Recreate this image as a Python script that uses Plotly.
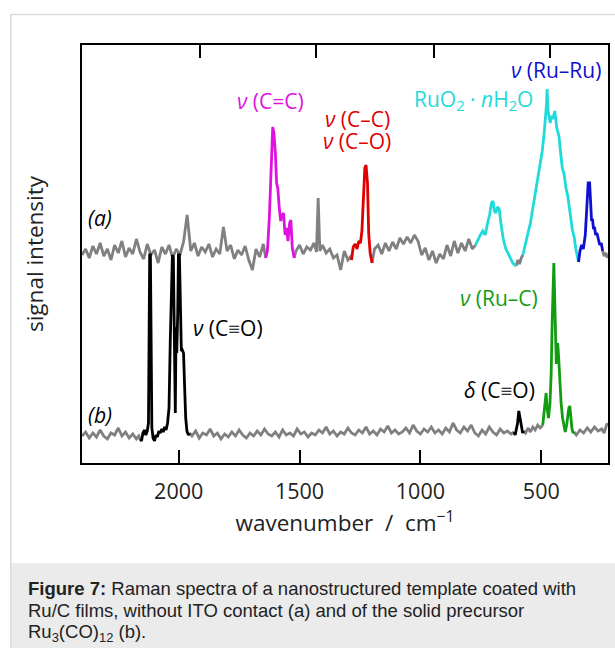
import numpy as np
import plotly.graph_objects as go

# ---------------- data ----------------
# spectrum (a): Ru/C film on template (wavenumber / cm-1, intensity in arbitrary offset units)
a_wn = [2400, 2385, 2370, 2355, 2340, 2325, 2310, 2295, 2280, 2265, 2250, 2235, 2220, 2205, 2190,
        2175, 2160, 2145, 2130, 2115, 2100, 2085, 2070, 2055, 2040, 2025, 2010, 1995, 1980, 1965,
        1950, 1935, 1920, 1905, 1890, 1875, 1860, 1845, 1830, 1815, 1800, 1785, 1770, 1755, 1740,
        1725, 1710, 1695, 1680, 1665, 1650,
        1640, 1633, 1625, 1617, 1611, 1606, 1600, 1595, 1590, 1584, 1578, 1572, 1566, 1560, 1554,
        1548, 1541, 1536, 1530, 1522,
        1515, 1500, 1485, 1470, 1455, 1440, 1430, 1423, 1416, 1405, 1390, 1375, 1360, 1345, 1330,
        1315, 1300, 1290,
        1285, 1278, 1270, 1262, 1255, 1248, 1242, 1236, 1230, 1225, 1219, 1214, 1208, 1200,
        1190, 1175, 1160, 1145, 1130, 1115, 1100, 1085, 1070, 1055, 1040, 1025, 1010, 995, 980,
        965, 950, 935, 920, 905, 890, 875, 860, 845, 830, 815, 800, 785,
        772, 762, 752, 742, 732, 722, 714, 706, 700, 694, 688, 681, 674, 667, 658, 648, 638, 628,
        618, 610, 604,
        597, 590, 583,
        576, 565, 555, 545, 535, 525, 517, 507, 496, 488, 482, 478, 476, 472, 467, 463, 459, 452,
        444, 436, 430, 426, 420, 413, 405, 398, 391, 385, 378, 372, 364, 357, 350, 346,
        340, 333, 326, 318, 312, 306, 300, 296, 292, 288, 284, 280, 275, 270, 264, 258, 252, 246,
        240, 233, 226]
a_int = [208, 214, 205, 217, 209, 220, 207, 214, 203, 218, 210, 222, 206, 215, 209,
         224, 211, 204, 219, 208, 213, 200, 216, 209, 218, 205, 214, 208, 221, 248,
         212, 220, 207, 216, 211, 219, 206, 214, 209, 236, 212, 218, 204, 213, 208,
         217, 203, 193, 214, 206, 219,
         205, 212, 245, 300, 336, 330, 310, 280, 275, 255, 242, 248, 250, 228, 235,
         222, 240, 243, 215, 205,
         212, 218, 209, 216, 213, 220, 211, 265, 212, 218, 210, 214, 205, 208, 193,
         212, 203, 206,
         203, 216, 219, 214, 222, 220, 232, 260, 295, 298, 280, 230, 210, 200,
         214, 218, 209, 220, 212, 221, 214, 225, 219, 226, 220, 228, 222, 208, 215,
         203, 212, 200, 209, 204, 218, 207, 222, 210, 220, 212, 224, 214,
         218, 224, 228, 232, 228, 240, 248, 260, 262, 252, 250, 256, 254, 240, 225, 215, 210, 205,
         200, 198, 197,
         203, 199, 205,
         208, 218, 230, 240, 255, 268, 280, 294, 312, 330, 346, 360, 374, 352, 346, 340, 347, 344,
         352, 335, 330, 325, 310, 295, 288, 275, 268, 255, 245, 234, 226, 214, 206, 201,
         212, 218, 214, 228, 252, 280, 280, 262, 242, 244, 234, 236, 228, 230, 222, 218, 220, 212,
         207, 210, 205]
# colour bands of spectrum (a): (colour, high wavenumber, low wavenumber)
a_bands = [("#808080", 2400, 1640), ("#808080", 1522, 1285), ("#808080", 1200, 772),
           ("#808080", 604, 576), ("#808080", 246, 224),
           ("#e012e0", 1640, 1522), ("#e00000", 1285, 1200), ("#1fdada", 772, 604),
           ("#1fdada", 576, 346), ("#1010d0", 346, 246)]

# spectrum (b): solid precursor Ru3(CO)12
b_wn = [2400, 2385, 2370, 2355, 2340, 2325, 2310, 2295, 2280, 2265, 2250, 2235, 2220, 2205, 2190,
        2175, 2165,
        2160, 2154, 2148, 2142, 2136, 2130, 2125, 2122, 2120, 2117, 2114, 2111, 2106, 2100, 2094,
        2088, 2082, 2076, 2070, 2064, 2058, 2052, 2046, 2040, 2035, 2030, 2026, 2022, 2018, 2014,
        2011, 2008, 2004, 2001, 1997, 1993, 1989, 1985, 1980, 1976, 1971, 1966, 1960, 1955,
        1945, 1930, 1915, 1900, 1885, 1870, 1855, 1840, 1825, 1810, 1795, 1780, 1765, 1750, 1735,
        1720, 1705, 1690, 1675, 1660, 1645, 1630, 1615, 1600, 1585, 1570, 1555, 1540, 1525, 1510,
        1495, 1480, 1465, 1450, 1435, 1420, 1405, 1390, 1375, 1360, 1345, 1330, 1315, 1300, 1285,
        1270, 1255, 1240, 1225, 1210, 1195, 1180, 1165, 1150, 1135, 1120, 1105, 1090, 1075, 1060,
        1045, 1030, 1015, 1000, 985, 970, 955, 940, 925, 910, 895, 880, 865, 850, 835, 820, 805,
        790, 775, 760, 745, 730, 715, 700, 685, 670, 655, 640, 625, 612,
        608, 603, 598, 593, 589, 585, 581, 577, 573,
        565, 555, 545, 535, 525, 515, 505, 497,
        494, 489, 484, 480, 476, 470, 464, 459, 455, 451, 448, 445, 441, 438, 435, 432, 428, 423,
        418, 412, 406, 401, 395, 390, 386, 382, 378, 373, 368, 365,
        355, 340, 325, 310, 295, 280, 265, 250, 240, 230, 226]
b_int = [27, 31, 25, 30, 26, 33, 27, 24, 30, 28, 35, 27, 31, 25, 29,
         24, 27,
         24, 22, 30, 33, 28, 32, 40, 150, 208, 208, 120, 35, 25, 22, 28,
         26, 32, 30, 34, 31, 36, 33, 40, 55, 120, 190, 208, 205, 120, 50,
         136, 110, 150, 208, 208, 140, 112, 113, 110, 80, 45, 32, 28, 30,
         27, 32, 25, 30, 28, 34, 27, 30, 24, 29, 26, 31, 27, 33, 28,
         25, 30, 27, 32, 28, 34, 29, 27, 31, 26, 33, 28, 30, 27, 34,
         29, 31, 26, 30, 28, 33, 30, 36, 29, 32, 27, 31, 29, 35, 30,
         28, 33, 30, 36, 29, 32, 28, 34, 31, 37, 30, 33, 29, 31, 35,
         30, 38, 32, 29, 34, 31, 36, 30, 33, 29, 35, 31, 40, 33, 30, 36, 32,
         38, 30, 27, 33, 29, 36, 31, 28, 34, 30, 32, 29, 31,
         28, 34, 40, 52, 46, 38, 36, 30, 32,
         30, 35, 31, 36, 33, 38, 35, 37,
         38, 48, 60, 70, 55, 45, 60, 90, 140, 185, 200, 170, 120, 99, 112, 120, 105, 80,
         60, 45, 36, 31, 38, 48, 55, 57, 45, 34, 30, 31,
         28, 33, 30, 35, 31, 36, 32, 34, 30, 38, 40]
b_bands = [("#808080", 2400, 2160), ("#808080", 1955, 612), ("#808080", 573, 494),
           ("#808080", 365, 224),
           ("#000000", 2160, 1955), ("#000000", 612, 573), ("#119c11", 494, 365)]

x_range = [2400, 224]
bottom_ticks = [2000, 1500, 1000, 500]
bottom_labels = ["2000", "1500", "1000", "500"]
top_ticks = [1913, 1431, 945, 463]

# peak assignments: (text, wavenumber, intensity, colour)
labels = [
    ("<i>ν</i> (C=C)", 1621, 362, "#e012e0"),
    ("<i>ν</i> (C–C)", 1262, 344, "#e00000"),
    ("<i>ν</i> (C–O)", 1262, 322, "#e00000"),
    ("RuO<sub>2</sub> · <i>n</i>H<sub>2</sub>O", 780, 363, "#1fdada"),
    ("<i>ν</i> (Ru–Ru)", 438, 393, "#1010d0"),
    ("<i>ν</i> (C≡O)", 1794, 135, "#000000"),
    ("<i>ν</i> (Ru–C)", 673, 165, "#119c11"),
    ("<i>δ</i> (C≡O)", 673, 73, "#000000"),
    ("<i>(a)</i>", 2325, 245, "#000000"),
    ("<i>(b)</i>", 2325, 48, "#000000"),
]

caption_lines = [
    "<b>Figure 7:</b> Raman spectra of a nanostructured template coated with",
    "Ru/C films, without ITO contact (a) and of the solid precursor",
    "Ru<sub>3</sub>(CO)<sub>12</sub> (b).",
]

# ---------------- figure ----------------
W, H = 615, 648
ML, MR, MT, MB = 82, 5, 45, 185
PW, PH = W - ML - MR, H - MT - MB


def px(xp):
    return (xp - ML) / PW


def py(yp):
    return (H - MB - yp) / PH


fig = go.Figure()


def add_bands(wn, inten, bands):
    wn = np.asarray(wn, dtype=float)
    inten = np.asarray(inten, dtype=float)
    for color, hi, lo in bands:
        m = (wn <= hi) & (wn >= lo)
        fig.add_trace(go.Scatter(x=wn[m], y=inten[m], mode="lines",
                                 line=dict(color=color, width=2.8, shape="linear"),
                                 showlegend=False, hoverinfo="skip"))


add_bands(a_wn, a_int, a_bands)
add_bands(b_wn, b_int, b_bands)
# helper trace so the top axis is drawn
fig.add_trace(go.Scatter(x=[], y=[], xaxis="x2", yaxis="y", showlegend=False, hoverinfo="skip"))

FONT = "Open Sans"
for text, xw, yi, col in labels:
    fig.add_annotation(x=xw, y=yi, xref="x", yref="y", text=text, showarrow=False,
                       font=dict(family=FONT, size=21, color=col),
                       xanchor="center", yanchor="middle")

cap_y = [588, 610, 633]
for t, yy in zip(caption_lines, cap_y):
    fig.add_annotation(x=px(26), y=py(yy), xref="paper", yref="paper", text=t,
                       showarrow=False, xanchor="left", yanchor="middle", align="left",
                       font=dict(family="Liberation Sans", size=18.5, color="#222222"))

fig.add_shape(type="rect", xref="paper", yref="paper", x0=px(10), x1=px(W + 5),
              y0=py(H + 5), y1=py(563), fillcolor="#ebebeb", line=dict(width=0), layer="below")
fig.add_shape(type="line", xref="paper", yref="paper", x0=px(10.5), x1=px(10.5),
              y0=py(14), y1=py(H + 5), line=dict(color="#dadada", width=1.5))
fig.add_shape(type="line", xref="paper", yref="paper", x0=px(10.5), x1=px(W + 5),
              y0=py(14.5), y1=py(14.5), line=dict(color="#dadada", width=1.5))

fig.update_layout(
    width=W, height=H,
    margin=dict(l=ML, r=MR, t=MT, b=MB, pad=0),
    paper_bgcolor="white", plot_bgcolor="white",
    xaxis=dict(range=x_range, tickvals=bottom_ticks, ticktext=bottom_labels,
               ticks="inside", ticklen=13, tickwidth=1.5, tickcolor="black",
               showline=True, linecolor="black", linewidth=1.8, mirror=True,
               showgrid=False, zeroline=False, ticklabelstandoff=8,
               tickfont=dict(family=FONT, size=21.5, color="#222222"),
               title=dict(text="wavenumber  /  cm<sup>−1</sup>", standoff=8,
                          font=dict(family=FONT, size=22.5, color="#222222"))),
    xaxis2=dict(range=x_range, overlaying="x", side="top", anchor="y",
                tickvals=top_ticks, showticklabels=False,
                ticks="inside", ticklen=13, tickwidth=1.5, tickcolor="black",
                showline=False, showgrid=False, zeroline=False),
    yaxis=dict(range=[0, PH], showticklabels=False, ticks="",
               showline=True, linecolor="black", linewidth=1.8, mirror=True,
               showgrid=False, zeroline=False,
               title=dict(text="signal intensity", standoff=30,
                          font=dict(family=FONT, size=22.5, color="#222222"))),
)

fig.write_html("out.html")
